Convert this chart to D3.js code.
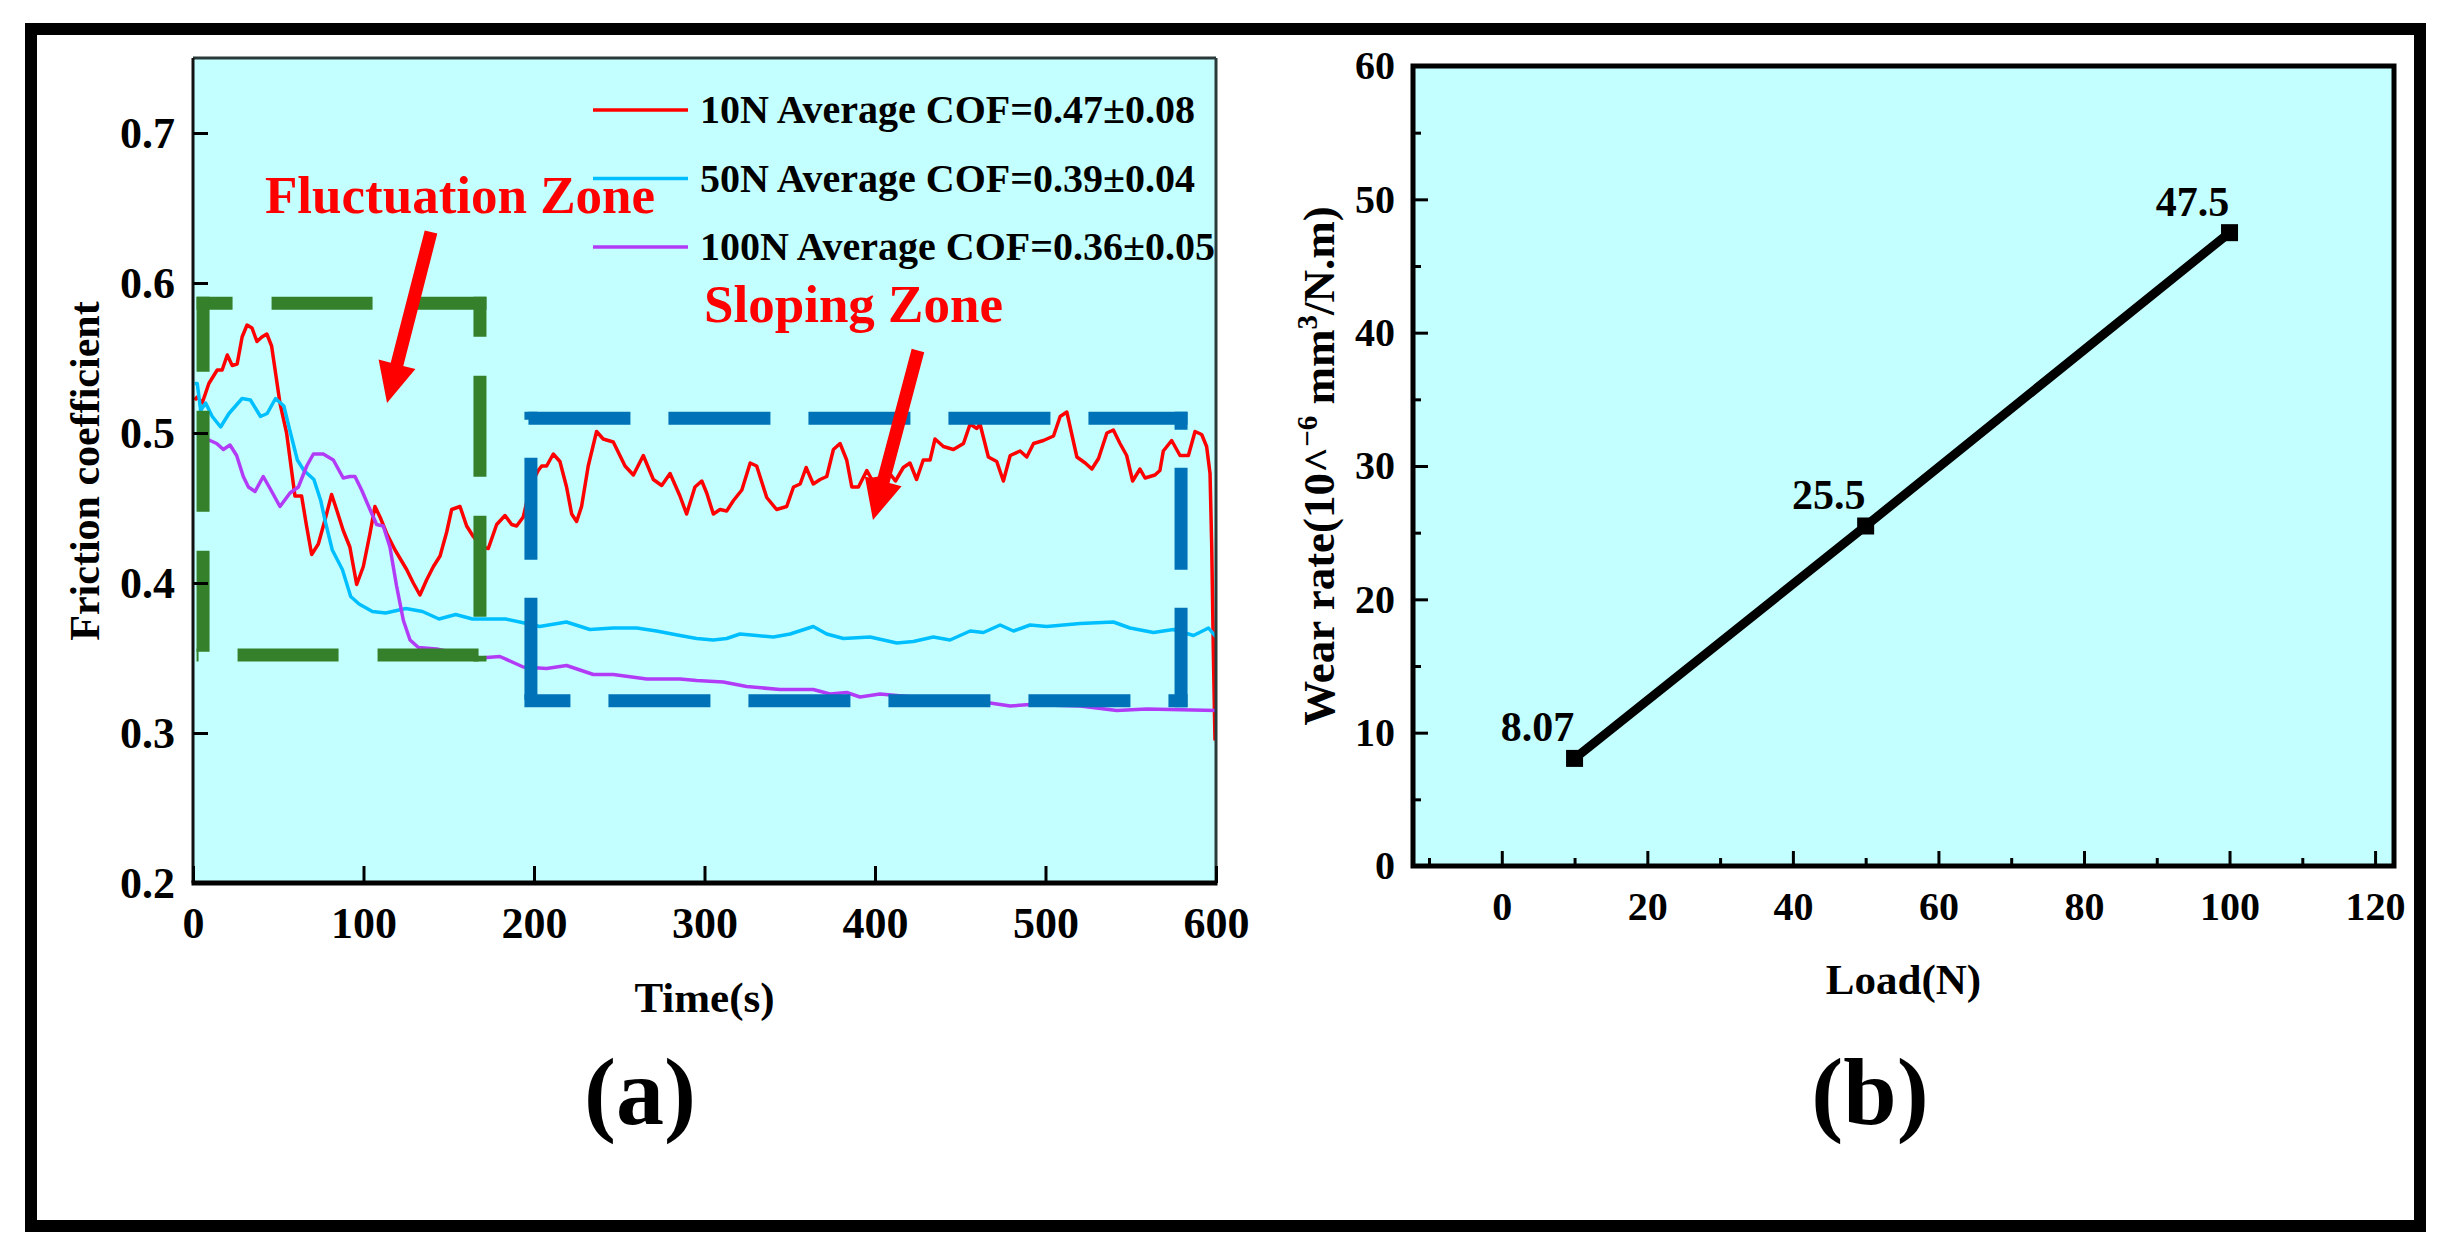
<!DOCTYPE html>
<html>
<head>
<meta charset="utf-8">
<script src="https://cdn.jsdelivr.net/npm/d3@7"></script>
<style>
  body { margin: 0; background: #fff; }
  svg { display: block; }
</style>
</head>
<body>
<div id="chart"></div>
<script>
'use strict';

// (a) friction coefficient against time as [time (s), COF]
var cof10N = [
  [1,0.522],[2.5,0.524],[5.4,0.520],[9.3,0.533],[14.2,0.542],[17.1,0.542],[20.1,0.552],[23,0.545],
  [25.9,0.546],[28.8,0.564],[31.7,0.572],[34.6,0.570],[37.5,0.561],[40.4,0.564],[43.3,0.566],[46.1,0.558],
  [51,0.520],[54.9,0.500],[59.8,0.458],[63.7,0.458],[66.6,0.438],[69.6,0.419],[73.5,0.426],[77.4,0.442],
  [81.3,0.459],[84.2,0.449],[88.1,0.435],[92,0.424],[96,0.399],[99.9,0.411],[103.8,0.433],[106.7,0.451],
  [109.7,0.444],[113.6,0.433],[118.5,0.422],[125.3,0.409],[129.2,0.400],[133.1,0.392],[137,0.402],[141,0.411],
  [144.9,0.418],[148.8,0.434],[151.7,0.449],[156.6,0.451],[160.5,0.438],[164.4,0.431],[169.3,0.424],[173.2,0.423],
  [178.1,0.439],[183,0.445],[186.9,0.439],[189.8,0.438],[193.7,0.444],[198,0.465],[202.5,0.475],[204.5,0.478],
  [207.4,0.478],[211.3,0.486],[215.2,0.481],[219.1,0.464],[222.1,0.446],[225,0.441],[227.9,0.451],[231.8,0.478],
  [236.7,0.501],[240.6,0.496],[246.5,0.494],[253.4,0.478],[258.3,0.472],[264.1,0.485],[270,0.469],[274.9,0.465],
  [279.8,0.473],[285.6,0.458],[289.5,0.446],[294.4,0.464],[298.4,0.468],[301.3,0.460],[305.2,0.446],[309.1,0.449],
  [313,0.448],[317,0.455],[321.9,0.462],[326.8,0.480],[330.6,0.478],[336.5,0.457],[342.3,0.449],[348.2,0.451],
  [352.2,0.464],[356.1,0.466],[359.6,0.477],[363.8,0.466],[367.8,0.469],[371.7,0.471],[375.6,0.489],[379.5,0.493],
  [383.4,0.482],[386.4,0.464],[390.3,0.464],[395.2,0.475],[398.1,0.469],[403,0.470],[408,0.474],[412,0.468],
  [416.6,0.477],[420.5,0.480],[424.4,0.469],[428.3,0.482],[432.3,0.482],[435.2,0.496],[440.1,0.491],[446,0.489],
  [451.9,0.493],[455.8,0.506],[459.7,0.503],[461.6,0.506],[466.5,0.484],[471.4,0.481],[475.3,0.468],[479.3,0.485],
  [485.1,0.488],[489,0.484],[493,0.493],[498.8,0.495],[504.7,0.498],[508.6,0.511],[512.5,0.514],[518.4,0.484],
  [523.3,0.480],[527.2,0.476],[531.1,0.483],[536,0.500],[539.8,0.502],[543.7,0.493],[547.6,0.485],[551.1,0.468],
  [555.4,0.476],[558.4,0.470],[564.2,0.472],[567.1,0.475],[569.1,0.488],[574,0.495],[578.9,0.485],[583.8,0.485],
  [587.7,0.501],[591.6,0.499],[594.5,0.491],[596.5,0.473],[597.5,0.424],[598.4,0.357],[599.4,0.295]
];
var cof50N = [
  [1,0.533],[2.5,0.533],[4.5,0.515],[7.4,0.520],[11.3,0.511],[16.2,0.504],[21.1,0.513],[28.8,0.523],
  [33.7,0.522],[39.6,0.511],[43.5,0.513],[48.4,0.523],[53.3,0.518],[56.3,0.504],[61.2,0.482],[65.1,0.475],
  [70.9,0.469],[74.9,0.455],[77.8,0.440],[81.7,0.422],[87.6,0.409],[92.5,0.391],[97.4,0.386],[105.2,0.381],
  [113,0.380],[124.8,0.383],[134.6,0.381],[144.3,0.376],[154.1,0.379],[163.9,0.376],[173.6,0.376],[183.4,0.376],
  [195.7,0.373],[203.3,0.371],[219,0.374],[232.8,0.369],[246.5,0.370],[260.2,0.370],[271.9,0.368],[285.6,0.365],
  [295.4,0.363],[305.2,0.362],[313,0.363],[320.8,0.366],[330.6,0.365],[340.4,0.364],[350.2,0.366],[363.8,0.371],
  [371.7,0.366],[381.5,0.363],[397.1,0.364],[412.8,0.360],[422.5,0.361],[434.2,0.364],[444,0.362],[455.8,0.368],
  [463.6,0.367],[473.4,0.372],[481.2,0.368],[491,0.372],[500.7,0.371],[520.3,0.373],[539.8,0.374],[549.6,0.370],
  [563.3,0.367],[575,0.369],[586.8,0.365],[595.6,0.370],[600,0.364]
];
var cof100N = [
  [3,0.497],[10,0.495],[13.9,0.493],[17.8,0.489],[21.7,0.492],[25.6,0.485],[29.5,0.471],[32.5,0.464],
  [36.4,0.461],[41.2,0.471],[45.2,0.463],[51,0.451],[56.9,0.460],[61.8,0.464],[66.7,0.478],[70.6,0.486],
  [76.4,0.486],[82.3,0.482],[88.1,0.470],[92,0.471],[95,0.471],[98.9,0.462],[103.8,0.449],[107.7,0.439],
  [111.6,0.438],[115.5,0.424],[119.4,0.398],[123.4,0.375],[127.3,0.362],[132.2,0.357],[142.9,0.356],[168.3,0.350],
  [180,0.351],[193.7,0.344],[207.4,0.343],[219.1,0.345],[234.8,0.339],[246.5,0.339],[266.1,0.336],[285.6,0.336],
  [295.4,0.335],[311,0.334],[324.7,0.331],[344.3,0.329],[363.8,0.329],[373.6,0.326],[383.4,0.327],[391.2,0.324],
  [402.9,0.326],[422.5,0.324],[440,0.323],[461.6,0.321],[479.3,0.318],[491,0.319],[520.3,0.318],[541.8,0.315],
  [559.4,0.316],[600,0.315]
];
var seriesNames = [ '10N Average COF=0.47\u00b10.08', '50N Average COF=0.39\u00b10.04', '100N Average COF=0.36\u00b10.05' ];
var timeTicks = [ 0, 100, 200, 300, 400, 500, 600 ];
var cofTicks = [ 0.2, 0.3, 0.4, 0.5, 0.6, 0.7 ];
var zoneNames = [ 'Fluctuation Zone', 'Sloping Zone' ];

// (b) wear rate against load
var loads = [ 10, 50, 100 ];
var wearRates = [ 8.07, 25.5, 47.5 ];
var wearLabels = [ '8.07', '25.5', '47.5' ];
var loadTicks = [ 0, 20, 40, 60, 80, 100, 120 ];
var loadMinorTicks = [ -10, 10, 30, 50, 70, 90, 110 ];
var wearTicks = [ 0, 10, 20, 30, 40, 50, 60 ];
var wearMinorTicks = [ 5, 15, 25, 35, 45, 55 ];

var FONT = "'Liberation Serif', 'Times New Roman', serif";
var PLOT_BG = '#c4ffff';
var seriesColors = [ '#ff0000', '#00bfff', '#b23cf5' ];

var svg = d3.select( '#chart' )
  .append( 'svg' )
    .attr( 'width', 2444 )
    .attr( 'height', 1255 )
    .attr( 'font-family', FONT )
    .attr( 'font-weight', 'bold' );

// outer black frame
svg.append( 'rect' )
    .attr( 'x', 31 ).attr( 'y', 29 )
    .attr( 'width', 2389 ).attr( 'height', 1197 )
    .attr( 'fill', 'none' )
    .attr( 'stroke', '#000' )
    .attr( 'stroke-width', 12 );

function styleAxis( g, size ) {
  g.attr( 'font-family', FONT )
    .attr( 'font-size', size )
    .attr( 'font-weight', 'bold' );
  g.select( '.domain' ).remove();
  g.selectAll( '.tick line' ).attr( 'stroke-width', 3 );
}

/* ---------- panel (a) ---------- */
var xa = d3.scaleLinear().domain( [ 0, 600 ] ).range( [ 193, 1216 ] );
var ya = d3.scaleLinear().domain( [ 0.2, 0.75 ] ).range( [ 883, 58 ] );

var ga = svg.append( 'g' );

ga.append( 'rect' )
    .attr( 'x', xa( 0 ) ).attr( 'y', ya( 0.75 ) )
    .attr( 'width', xa( 600 ) - xa( 0 ) )
    .attr( 'height', ya( 0.2 ) - ya( 0.75 ) )
    .attr( 'fill', PLOT_BG );

var line = d3.line()
    .x( function( d ) { return xa( d[ 0 ] ); } )
    .y( function( d ) { return ya( d[ 1 ] ); } );

[ cof10N, cof50N, cof100N ].forEach( function( s, i ) {
  ga.append( 'path' )
      .datum( s )
      .attr( 'd', line )
      .attr( 'fill', 'none' )
      .attr( 'stroke', seriesColors[ i ] )
      .attr( 'stroke-width', 3.5 )
      .attr( 'stroke-linejoin', 'round' );
} );

// dashed zone boxes, each side with its own dash phase
function dashedBox( g, box, color, dash, offsets ) {
  var x0 = xa( box[ 0 ] ), x1 = xa( box[ 1 ] ),
      yb = ya( box[ 2 ] ), yt = ya( box[ 3 ] ),
      hw = 6.5;
  var sides = [
    [ x0 - hw, yt, x1 + hw, yt ],
    [ x1, yt - hw, x1, yb + hw ],
    [ x0 - hw, yb, x1 + hw, yb ],
    [ x0, yt - hw, x0, yb + hw ]
  ];
  sides.forEach( function( s, i ) {
    g.append( 'line' )
        .attr( 'x1', s[ 0 ] ).attr( 'y1', s[ 1 ] )
        .attr( 'x2', s[ 2 ] ).attr( 'y2', s[ 3 ] )
        .attr( 'stroke', color )
        .attr( 'stroke-width', 13 )
        .attr( 'stroke-dasharray', dash )
        .attr( 'stroke-dashoffset', offsets[ i ] );
  } );
}

dashedBox( ga, [ 5.9, 168.3, 0.352, 0.5865 ], '#34802b', '101 39', [ 65, 61, 99, 26 ] );
dashedBox( ga, [ 198.2, 579.5, 0.3215, 0.5098 ], '#0072b8', '102 38', [ 136, 84, 56, 94 ] );

function arrow( g, from, to ) {
  var ax = xa( from[ 0 ] ), ay = ya( from[ 1 ] ),
      bx = xa( to[ 0 ] ), by = ya( to[ 1 ] );
  var len = Math.hypot( bx - ax, by - ay ),
      ux = ( bx - ax ) / len, uy = ( by - ay ) / len,
      nx = -uy, ny = ux;
  var sw = 6.5, hw = 19, hl = 40;
  var cx = bx - ux * hl, cy = by - uy * hl;
  var pts = [
    [ ax + nx * sw, ay + ny * sw ],
    [ cx + nx * sw, cy + ny * sw ],
    [ cx + nx * hw, cy + ny * hw ],
    [ bx, by ],
    [ cx - nx * hw, cy - ny * hw ],
    [ cx - nx * sw, cy - ny * sw ],
    [ ax - nx * sw, ay - ny * sw ]
  ];
  g.append( 'polygon' )
      .attr( 'points', pts.map( function( p ) { return p.join( ',' ); } ).join( ' ' ) )
      .attr( 'fill', '#ff0000' );
}

arrow( ga, [ 139.6, 0.634 ], [ 113.8, 0.520 ] );
arrow( ga, [ 425.2, 0.555 ], [ 398.8, 0.442 ] );

var zoneAt = [ [ 42.2, 0.6467 ], [ 299.7, 0.574 ] ];
zoneNames.forEach( function( name, i ) {
  ga.append( 'text' )
      .attr( 'x', xa( zoneAt[ i ][ 0 ] ) )
      .attr( 'y', ya( zoneAt[ i ][ 1 ] ) )
      .attr( 'fill', '#ff0000' )
      .attr( 'font-size', 53 )
      .text( name );
} );

// legend
seriesNames.forEach( function( name, i ) {
  var ly = 110 + i * 68.5;
  ga.append( 'line' )
      .attr( 'x1', 593 ).attr( 'x2', 688 )
      .attr( 'y1', ly ).attr( 'y2', ly )
      .attr( 'stroke', seriesColors[ i ] )
      .attr( 'stroke-width', 3.5 );
  ga.append( 'text' )
      .attr( 'x', 700 )
      .attr( 'y', ly + 13 )
      .attr( 'font-size', 40 )
      .text( name );
} );

// frame of panel (a)
ga.append( 'line' ).attr( 'x1', xa( 0 ) ).attr( 'x2', xa( 600 ) )
    .attr( 'y1', ya( 0.75 ) ).attr( 'y2', ya( 0.75 ) )
    .attr( 'stroke', '#2a3a3a' ).attr( 'stroke-width', 3 );
ga.append( 'line' ).attr( 'x1', xa( 600 ) ).attr( 'x2', xa( 600 ) )
    .attr( 'y1', ya( 0.75 ) ).attr( 'y2', ya( 0.2 ) )
    .attr( 'stroke', '#2a3a3a' ).attr( 'stroke-width', 3 );
ga.append( 'line' ).attr( 'x1', xa( 0 ) ).attr( 'x2', xa( 0 ) )
    .attr( 'y1', ya( 0.75 ) ).attr( 'y2', ya( 0.2 ) )
    .attr( 'stroke', '#111' ).attr( 'stroke-width', 3 );
ga.append( 'line' ).attr( 'x1', xa( 0 ) - 1.5 ).attr( 'x2', xa( 600 ) + 1.5 )
    .attr( 'y1', ya( 0.2 ) ).attr( 'y2', ya( 0.2 ) )
    .attr( 'stroke', '#000' ).attr( 'stroke-width', 5 );

ga.append( 'g' )
    .attr( 'transform', 'translate( ' + xa( 0 ) + ',0 )' )
    .call( d3.axisLeft( ya ).tickValues( cofTicks ).tickSize( -15 ).tickPadding( 18 )
      .tickFormat( d3.format( '.1f' ) ) )
    .call( styleAxis, 44 );

ga.append( 'g' )
    .attr( 'transform', 'translate( 0,' + ya( 0.2 ) + ' )' )
    .call( d3.axisBottom( xa ).tickValues( timeTicks ).tickSize( -17 ).tickPadding( 24 ) )
    .call( styleAxis, 44 );

ga.append( 'text' )
    .attr( 'transform', 'translate( 99,471 ) rotate( -90 )' )
    .attr( 'text-anchor', 'middle' )
    .attr( 'font-size', 42 )
    .text( 'Friction coefficient' );

ga.append( 'text' )
    .attr( 'x', ( xa( 0 ) + xa( 600 ) ) / 2 )
    .attr( 'y', 1012 )
    .attr( 'text-anchor', 'middle' )
    .attr( 'font-size', 43 )
    .text( 'Time(s)' );

ga.append( 'text' )
    .attr( 'x', 640 )
    .attr( 'y', 1124 )
    .attr( 'text-anchor', 'middle' )
    .attr( 'font-size', 96 )
    .text( '(a)' );

/* ---------- panel (b) ---------- */
var xb = d3.scaleLinear().domain( [ -12.2, 122.6 ] ).range( [ 1413, 2394 ] );
var yb = d3.scaleLinear().domain( [ 0, 60 ] ).range( [ 866, 66 ] );

var gb = svg.append( 'g' );

gb.append( 'rect' )
    .attr( 'x', xb( -12.2 ) ).attr( 'y', yb( 60 ) )
    .attr( 'width', xb( 122.6 ) - xb( -12.2 ) )
    .attr( 'height', yb( 0 ) - yb( 60 ) )
    .attr( 'fill', PLOT_BG )
    .attr( 'stroke', '#000' )
    .attr( 'stroke-width', 5 );

gb.append( 'g' )
    .attr( 'transform', 'translate( ' + xb( -12.2 ) + ',0 )' )
    .call( d3.axisLeft( yb ).tickValues( wearTicks ).tickSize( -15 ).tickPadding( 18 ) )
    .call( styleAxis, 40 );
gb.append( 'g' )
    .attr( 'transform', 'translate( ' + xb( -12.2 ) + ',0 )' )
    .call( d3.axisLeft( yb ).tickValues( wearMinorTicks ).tickSize( -8 ).tickFormat( '' ) )
    .call( styleAxis, 40 );

gb.append( 'g' )
    .attr( 'transform', 'translate( 0,' + yb( 0 ) + ' )' )
    .call( d3.axisBottom( xb ).tickValues( loadTicks ).tickSize( -15 ).tickPadding( 26 ) )
    .call( styleAxis, 40 );
gb.append( 'g' )
    .attr( 'transform', 'translate( 0,' + yb( 0 ) + ' )' )
    .call( d3.axisBottom( xb ).tickValues( loadMinorTicks ).tickSize( -8 ).tickFormat( '' ) )
    .call( styleAxis, 40 );

var wearData = loads.map( function( l, i ) { return [ l, wearRates[ i ], wearLabels[ i ] ]; } );

gb.append( 'path' )
    .datum( wearData )
    .attr( 'd', d3.line()
      .x( function( d ) { return xb( d[ 0 ] ); } )
      .y( function( d ) { return yb( d[ 1 ] ); } ) )
    .attr( 'fill', 'none' )
    .attr( 'stroke', '#000' )
    .attr( 'stroke-width', 9 );

gb.selectAll( 'rect.marker' )
    .data( wearData )
  .enter().append( 'rect' )
    .attr( 'class', 'marker' )
    .attr( 'x', function( d ) { return xb( d[ 0 ] ) - 8.5; } )
    .attr( 'y', function( d ) { return yb( d[ 1 ] ) - 8.5; } )
    .attr( 'width', 17 )
    .attr( 'height', 17 )
    .attr( 'fill', '#000' );

gb.selectAll( 'text.value' )
    .data( wearData )
  .enter().append( 'text' )
    .attr( 'class', 'value' )
    .attr( 'x', function( d ) { return xb( d[ 0 ] ) - 37; } )
    .attr( 'y', function( d ) { return yb( d[ 1 ] ) - 17; } )
    .attr( 'text-anchor', 'middle' )
    .attr( 'font-size', 42 )
    .text( function( d ) { return d[ 2 ]; } );

var wl = gb.append( 'text' )
    .attr( 'transform', 'translate( 1334,466 ) rotate( -90 )' )
    .attr( 'text-anchor', 'middle' )
    .attr( 'font-size', 45 );
wl.append( 'tspan' ).text( 'Wear rate(10^' );
wl.append( 'tspan' ).attr( 'dy', -17 ).attr( 'font-size', 29 ).text( '\u22126' );
wl.append( 'tspan' ).attr( 'dy', 17 ).text( ' mm' );
wl.append( 'tspan' ).attr( 'dy', -17 ).attr( 'font-size', 29 ).text( '3' );
wl.append( 'tspan' ).attr( 'dy', 17 ).text( '/N.m)' );

gb.append( 'text' )
    .attr( 'x', ( xb( -12.2 ) + xb( 122.6 ) ) / 2 )
    .attr( 'y', 994 )
    .attr( 'text-anchor', 'middle' )
    .attr( 'font-size', 43 )
    .text( 'Load(N)' );

gb.append( 'text' )
    .attr( 'x', 1870 )
    .attr( 'y', 1124 )
    .attr( 'text-anchor', 'middle' )
    .attr( 'font-size', 96 )
    .text( '(b)' );
</script>
</body>
</html>
